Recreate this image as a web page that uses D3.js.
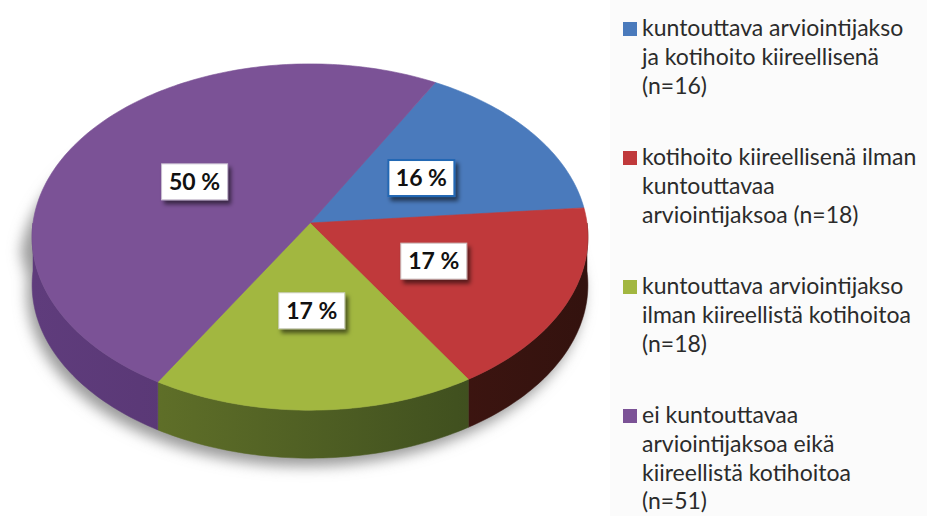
<!DOCTYPE html>
<html>
<head>
<meta charset="utf-8">
<script src="https://cdn.jsdelivr.net/npm/d3@7"></script>
<style>
  html, body { margin: 0; padding: 0; background: #fff; }
  svg { display: block; }
</style>
</head>
<body>
<div id="chart"></div>
<script>
// data
var categories = [
  ["kuntouttava arviointijakso", "ja kotihoito kiireellisenä", "(n=16)"],
  ["kotihoito kiireellisenä ilman", "kuntouttavaa", "arviointijaksoa (n=18)"],
  ["kuntouttava arviointijakso", "ilman kiireellistä kotihoitoa", "(n=18)"],
  ["ei kuntouttavaa", "arviointijaksoa eikä", "kiireellistä kotihoitoa", "(n=51)"]
];
var counts = [16, 18, 18, 51];
var percentLabels = ["16 %", "17 %", "17 %", "50 %"];
var topColors = ["#4a7abc", "#c0393b", "#a2b740", "#7b5296"];
var sideLight = ["#2d4a75", "#5a1d17", "#6b7b2c", "#5f3c7c"];
var sideDark = ["#233a5c", "#33120e", "#34441b", "#4a2c63"];
var boxBorders = ["#2467b4", "#c9b9b9", "#c8ccb8", "#c9bfd1"];

var width = 927, height = 516;
var svg = d3.select('#chart').append('svg').attr('width', width).attr('height', height);
var defs = svg.append('defs');

// pie geometry (perspective ellipse)
var cx = 310, cy = 223, A = 277, B = 172, k = 0.081, depth = 48;
var startDeg = 29;

function proj(theta, r, dz){
   var u = r * Math.sin(theta), v = -r * Math.cos(theta);
   var w = 1 - k * v;
   return [cx + A * u / w, cy + B * v / w + (dz || 0)];
}

var pie = d3.pie().sort(null).value(function(d){ return d; })
   .startAngle(startDeg * Math.PI / 180)
   .endAngle(startDeg * Math.PI / 180 + 2 * Math.PI);
var arcs = pie(counts);

function arcPoints(a0, a1, dz){
   var n = Math.max(2, Math.ceil((a1 - a0) / 0.02));
   return d3.range(n + 1).map(function(i){ return proj(a0 + (a1 - a0) * i / n, 1, dz); });
}

var line = d3.line();

// legend panel background
svg.append('rect').attr('x', 610).attr('y', 0).attr('width', width - 610).attr('height', height)
   .attr('fill', '#fbfbfb');

// soft shadow under the pie
var blur = defs.append('filter').attr('id', 'pieShadow').attr('x', '-20%').attr('y', '-20%')
   .attr('width', '140%').attr('height', '140%');
blur.append('feGaussianBlur').attr('stdDeviation', 7);

svg.append('path')
   .attr('d', line(arcPoints(Math.PI / 2, 3 * Math.PI / 2, depth + 8).map(function(p){ return [p[0] - 5, p[1]]; })
      .concat(arcPoints(3 * Math.PI / 2, 5 * Math.PI / 2, 0).map(function(p){ return [p[0] - 12, p[1] + 30]; }))) + 'Z')
   .attr('fill', '#9a9a9a')
   .attr('filter', 'url(#pieShadow)');

// side gradients
arcs.forEach(function(d, i){
   var g = defs.append('linearGradient').attr('id', 'side' + i)
      .attr('gradientUnits', 'userSpaceOnUse')
      .attr('x1', cx - A).attr('x2', cx + A).attr('y1', 0).attr('y2', 0);
   g.append('stop').attr('offset', '0%').attr('stop-color', sideLight[i]);
   g.append('stop').attr('offset', '100%').attr('stop-color', sideDark[i]);
});

// front sides (visible between 90 and 270 degrees)
var sides = arcs.map(function(d, i){
   var a0 = Math.max(d.startAngle, Math.PI / 2);
   var a1 = Math.min(d.endAngle, 3 * Math.PI / 2);
   if (a1 <= a0) return null;
   var pts = arcPoints(a0, a1, 0).concat(arcPoints(a0, a1, depth).reverse());
   return { i: i, pts: pts };
}).filter(Boolean);

svg.append('g').selectAll('path').data(sides).enter().append('path')
   .attr('d', function(s){ return line(s.pts) + 'Z'; })
   .attr('fill', function(s){ return 'url(#side' + s.i + ')'; })
   .attr('stroke', function(s){ return 'url(#side' + s.i + ')'; })
   .attr('stroke-width', 0.5);

// top face
svg.append('g').selectAll('path').data(arcs).enter().append('path')
   .attr('d', function(d){
      return line([proj(0, 0, 0)].concat(arcPoints(d.startAngle, d.endAngle, 0))) + 'Z';
   })
   .attr('fill', function(d, i){ return topColors[i]; })
   .attr('stroke', function(d, i){ return topColors[i]; })
   .attr('stroke-width', 0.6);

// label boxes
var boxShadow = defs.append('filter').attr('id', 'boxShadow').attr('x', '-30%').attr('y', '-30%')
   .attr('width', '160%').attr('height', '170%');
boxShadow.append('feDropShadow').attr('dx', 3).attr('dy', 4).attr('stdDeviation', 2.2)
   .attr('flood-color', '#000').attr('flood-opacity', 0.55);

var boxW = 66, boxH = 36;
var labels = svg.append('g').selectAll('g').data(arcs).enter().append('g')
   .attr('transform', function(d){
      var p = proj((d.startAngle + d.endAngle) / 2, 0.49, 0);
      return 'translate(' + p[0] + ',' + p[1] + ')';
   });
labels.append('rect')
   .attr('x', -boxW / 2).attr('y', -boxH / 2).attr('width', boxW).attr('height', boxH)
   .attr('fill', '#fff')
   .attr('stroke', function(d, i){ return boxBorders[i]; })
   .attr('stroke-width', function(d, i){ return i === 0 ? 2 : 1; })
   .attr('filter', 'url(#boxShadow)');
labels.append('text')
   .attr('text-anchor', 'middle').attr('y', 8)
   .style('font-family', 'Lato, "Open Sans", sans-serif')
   .style('font-weight', 'bold').style('font-size', '23px').attr('fill', '#111')
   .text(function(d, i){ return percentLabels[i]; });

// legend
var legendX = 623, legendY = 36, groupGap = 129, lineGap = 28.8;
var legend = svg.append('g').selectAll('g').data(categories).enter().append('g')
   .attr('transform', function(d, i){ return 'translate(' + legendX + ',' + (legendY + i * groupGap) + ')'; });
legend.append('rect').attr('x', 0).attr('y', -14).attr('width', 14).attr('height', 14)
   .attr('fill', function(d, i){ return topColors[i]; });
legend.append('text')
   .style('font-family', 'Lato, "Open Sans", sans-serif').style('font-size', '23px').attr('fill', '#2b2b2b')
   .selectAll('tspan').data(function(d){ return d; }).enter().append('tspan')
   .attr('x', 19).attr('y', function(d, j){ return j * lineGap; })
   .text(function(d){ return d; });
</script>
</body>
</html>
